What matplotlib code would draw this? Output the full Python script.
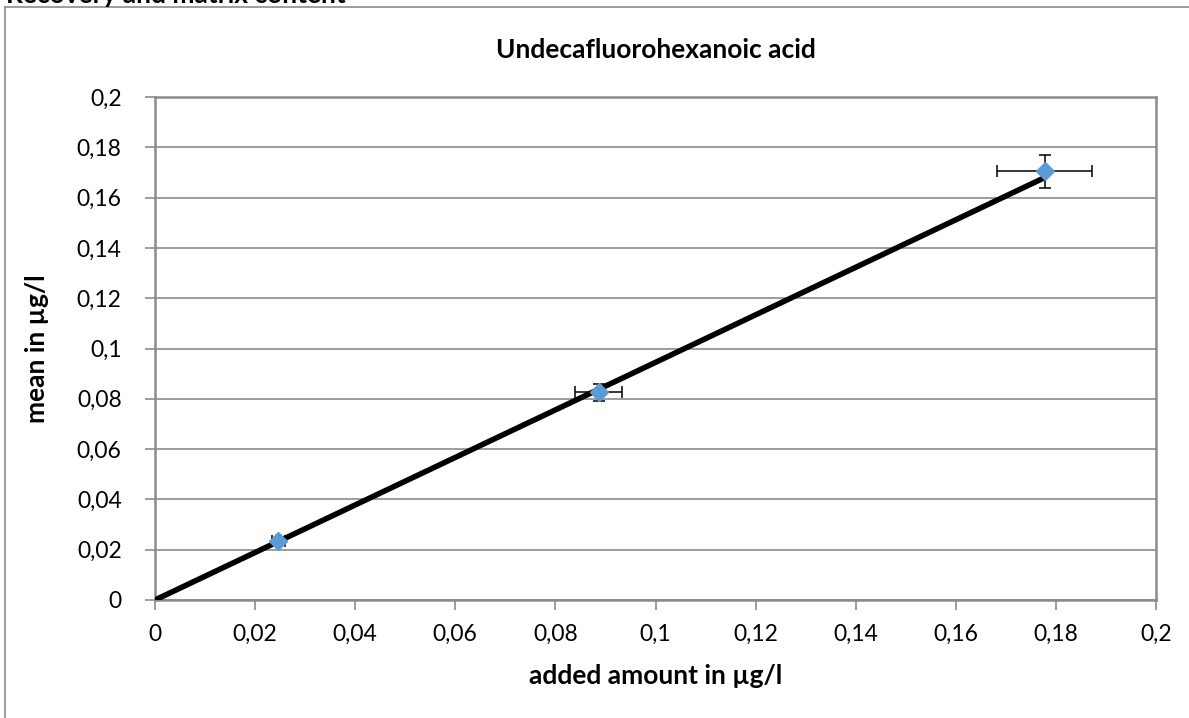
import matplotlib
matplotlib.use("Agg")
import matplotlib.pyplot as plt
from matplotlib.ticker import FuncFormatter, MultipleLocator

# Data
added = [0.0246, 0.0887, 0.1778]
mean = [0.0234, 0.0826, 0.1705]
xerr = [0.0013, 0.0047, 0.0095]
yerr = [0.0012, 0.0034, 0.0065]
fit_x = [0.0, 0.1778]
fit_y = [0.0, 0.1680]

title = "Undecafluorohexanoic acid"
header = "Recovery and matrix content"
xlabel = "added amount in µg/l"
ylabel = "mean in µg/l"

plt.rcParams['font.family'] = ['Lato', 'DejaVu Sans']

fig = plt.figure(figsize=(11.89, 7.18), dpi=100)
ax = fig.add_axes([155/1189, 1-600/718, (1156-155)/1189, (600-97)/718])

# outer chart frame (left and top visible)
fig.add_artist(plt.Line2D([5/1189, 5/1189], [0, 1-7/718], color='#8c8c8c', lw=1.2, transform=fig.transFigure))
fig.add_artist(plt.Line2D([5/1189, 1], [1-7/718, 1-7/718], color='#8c8c8c', lw=1.2, transform=fig.transFigure))
fig.text(6/1189, 1-3/718, header, fontsize=19, fontweight='bold', va='baseline', ha='left')

ax.set_xlim(0, 0.2)
ax.set_ylim(0, 0.2)
ax.xaxis.set_major_locator(MultipleLocator(0.02))
ax.yaxis.set_major_locator(MultipleLocator(0.02))
fmt = FuncFormatter(lambda v, p: ('%g' % round(v, 4)).replace('.', ','))
ax.xaxis.set_major_formatter(fmt)
ax.yaxis.set_major_formatter(fmt)

ax.grid(axis='y', color='#8c8c8c', lw=1.2)
ax.set_axisbelow(True)
for s in ax.spines.values():
    s.set_color('#8c8c8c')
    s.set_linewidth(1.8)
ax.tick_params(direction='out', length=7, width=1.2, color='#8c8c8c', labelsize=16.5)
ax.tick_params(axis='y', pad=17)
ax.tick_params(axis='x', pad=10)

ax.plot(fit_x, fit_y, color='black', lw=4, solid_capstyle='butt', zorder=3)
ax.errorbar(added, mean, xerr=xerr, yerr=yerr, fmt='D', color='#5b9bd5', ms=9,
            mec='#5b9bd5', ecolor='black', elinewidth=1.1, capsize=4.5, capthick=1.1, zorder=4)

ax.set_title(title, fontsize=19, fontweight='bold', pad=28)
ax.set_xlabel(xlabel, fontsize=19, fontweight='bold', labelpad=14)
ax.set_ylabel(ylabel, fontsize=19, fontweight='bold', labelpad=20)

fig.savefig("out.png", dpi=100)
